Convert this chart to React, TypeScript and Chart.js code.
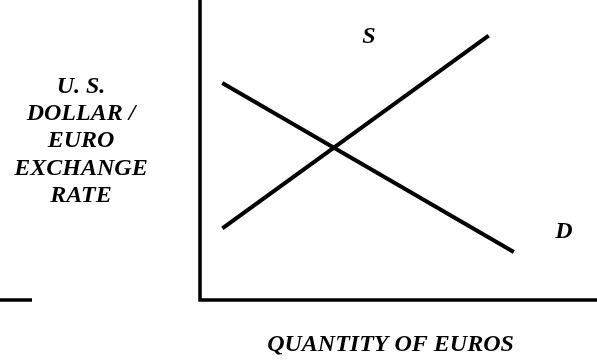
import React, { useEffect, useRef } from "react";
import { Chart, registerables } from "chart.js";

Chart.register(...registerables);

// Quantity axis (0..100) and exchange-rate axis (0..100), arbitrary units
const demandX = [6.05, 78.6];
const demandY = [72, 16.3];
const supplyX = [6.05, 72.3];
const supplyY = [24.3, 87.7];

const yTitleLines = ["U. S.", "DOLLAR /", "EURO", "EXCHANGE", "RATE"];
const xTitle = "QUANTITY OF EUROS";
const supplyLabel = "S";
const demandLabel = "D";

const FONT = "bold italic 24px 'Liberation Serif', 'Times New Roman', serif";

const decor = {
  id: "decor",
  afterDraw(chart: any) {
    const { ctx, chartArea } = chart;
    const { left, right, top, bottom } = chartArea;
    ctx.save();
    // axes
    ctx.strokeStyle = "#000";
    ctx.lineWidth = 3.5;
    ctx.lineCap = "butt";
    ctx.beginPath();
    ctx.moveTo(left, top);
    ctx.lineTo(left, bottom + 1.75);
    ctx.moveTo(left - 1.75, bottom);
    ctx.lineTo(right, bottom);
    // left stub
    ctx.moveTo(0, bottom);
    ctx.lineTo(32, bottom);
    ctx.stroke();

    ctx.fillStyle = "#000";
    ctx.font = FONT;
    ctx.textAlign = "center";
    ctx.textBaseline = "alphabetic";
    const baselines = [93, 120, 147, 175, 202];
    yTitleLines.forEach((t, i) => {
      ctx.fillText(t, 81, baselines[i]);
    });
    ctx.fillText(xTitle, 390.5, 351);
    ctx.fillText(supplyLabel, 369, 43);
    ctx.fillText(demandLabel, 564, 238);
    ctx.restore();
  },
};

export default function App() {
  const ref = useRef<HTMLCanvasElement | null>(null);
  useEffect(() => {
    if (!ref.current) return;
    const chart = new Chart(ref.current, {
      type: "scatter",
      data: {
        datasets: [
          {
            label: "D",
            data: demandX.map((x, i) => ({ x, y: demandY[i] })),
            showLine: true,
            borderColor: "#000",
            borderWidth: 4,
            pointRadius: 0,
            borderCapStyle: "square",
          },
          {
            label: "S",
            data: supplyX.map((x, i) => ({ x, y: supplyY[i] })),
            showLine: true,
            borderColor: "#000",
            borderWidth: 4,
            pointRadius: 0,
            borderCapStyle: "square",
          },
        ],
      },
      options: {
        responsive: false,
        animation: false,
        layout: { padding: { left: 200, right: 0, top: 0, bottom: 62 } },
        plugins: { legend: { display: false }, tooltip: { enabled: false } },
        scales: {
          x: { type: "linear", min: 0, max: 100, display: false },
          y: { type: "linear", min: 0, max: 100, display: false },
        },
      },
      plugins: [decor],
    });
    return () => chart.destroy();
  }, []);
  return (
    <div style={{ position: "fixed", left: 0, top: 0, width: 597, height: 362, background: "#fff" }}>
      <canvas ref={ref} width={597} height={362} style={{ display: "block" }} />
    </div>
  );
}
